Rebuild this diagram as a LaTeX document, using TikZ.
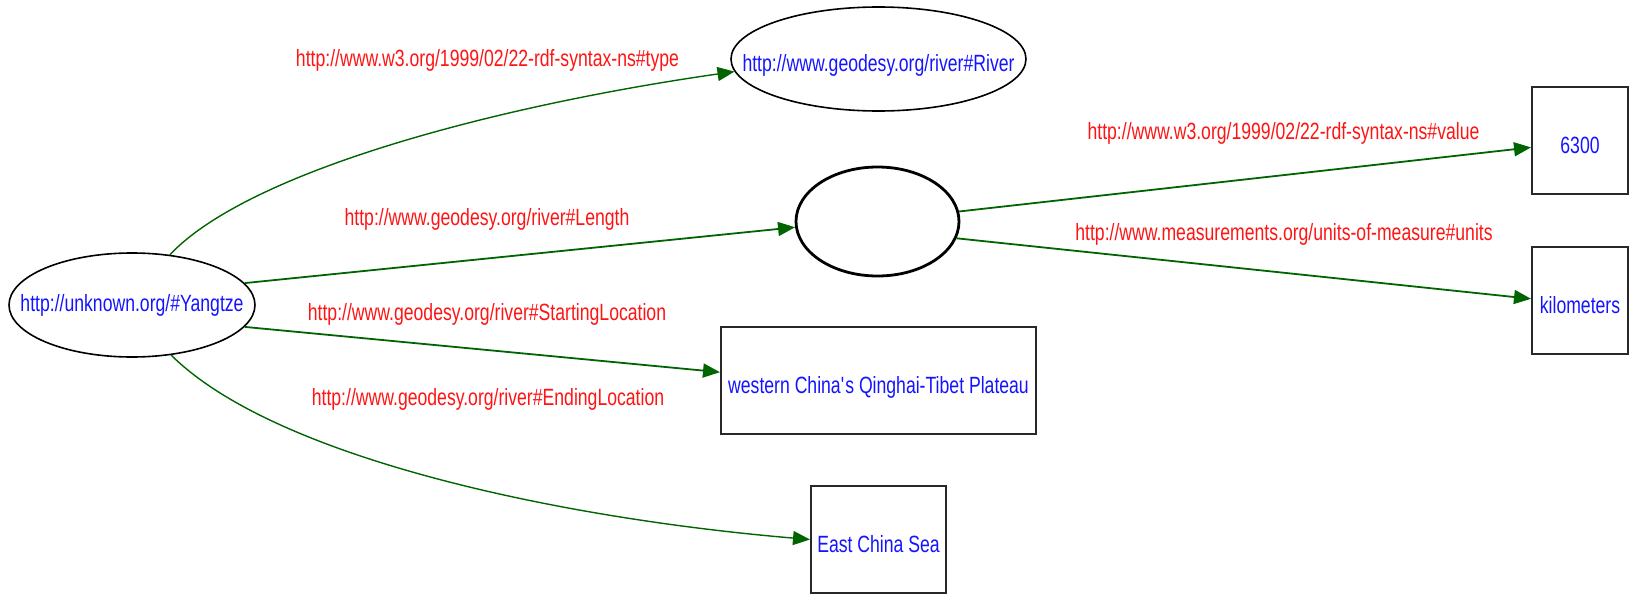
\documentclass[tikz,border=0pt]{standalone}
\usepackage{fontspec}
\setmainfont{Liberation Sans}[FakeStretch=0.75]
\usetikzlibrary{shapes.geometric,arrows.meta}
\definecolor{uriblue}{RGB}{20,20,255}
\definecolor{propred}{RGB}{255,20,20}
\definecolor{edgegreen}{RGB}{0,100,0}
\definecolor{boxline}{RGB}{40,40,40}
\begin{document}
\begin{tikzpicture}[x=1pt,y=-1pt,
  txt/.style={font=\fontsize{23.5}{28}\selectfont, inner sep=0pt},
  res/.style={ellipse, draw=black, line width=1.6pt, txt, text=uriblue,
    text height=28pt, text depth=3pt},
  blanknode/.style={ellipse, draw=black, line width=2.8pt, inner sep=0pt},
  lit/.style={rectangle, draw=boxline, line width=2pt, txt, text=uriblue,
    text height=28pt, text depth=3pt, minimum height=107pt},
  prop/.style={txt, text=propred, anchor=base},
  arc/.style={draw=edgegreen, line width=1.8pt, -{Triangle[length=17pt,width=14pt]}},
  bentarc/.style={arc, line width=1.4pt},
]
\useasboundingbox (0,0) rectangle (1633,594);

% resources and blank node
\node[res, minimum width=246pt, minimum height=104pt, text height=17pt, text depth=3.6pt]
  (yang) at (132,305) {\makebox[0pt]{http://unknown.org/\#Yangtze}};
\node[res, minimum width=295pt, minimum height=104pt]
  (river) at (878.5,59) {\makebox[0pt]{http://www.geodesy.org/river\#River}};
\node[blanknode, minimum width=163pt, minimum height=109pt] (blank) at (877.5,221.5) {};

% literals
\node[lit, minimum width=96pt]  (v6300) at (1580,140.5) {6300};
\node[lit, minimum width=96pt]  (km)    at (1580,300.5) {kilometers};
\node[lit, minimum width=315pt] (west)  at (878.5,380.5) {western China\textquotesingle s Qinghai-Tibet Plateau};
\node[lit, minimum width=135pt] (ecs)   at (878.5,539.5) {East China Sea};

% property labels
\node[prop] (ltype)  at (487.5,66.7)  {http://www.w3.org/1999/02/22-rdf-syntax-ns\#type};
\node[prop] (llen)   at (487,225)     {http://www.geodesy.org/river\#Length};
\node[prop] (lstart) at (487,320.7)   {http://www.geodesy.org/river\#StartingLocation};
\node[prop] (lend)   at (488,405)     {http://www.geodesy.org/river\#EndingLocation};
\node[prop] (lval)   at (1283.5,139.3){http://www.w3.org/1999/02/22-rdf-syntax-ns\#value};
\node[prop] (lunit)  at (1284,240.7)  {http://www.measurements.org/units-of-measure\#units};

% statements
\draw[bentarc] (yang.53) .. controls (250,170) and (501,105) .. (river.185);
\draw[arc] (yang.11) -- (blank.184);
\draw[arc] (yang.-11) -- (west.177.5);
\draw[bentarc] (yang.-52) .. controls (276,459) and (562,518.5) .. (ecs.west);
\draw[arc] (blank.7) -- (v6300.188);
\draw[arc] (blank.-12) -- (km.178);
\end{tikzpicture}
\end{document}
